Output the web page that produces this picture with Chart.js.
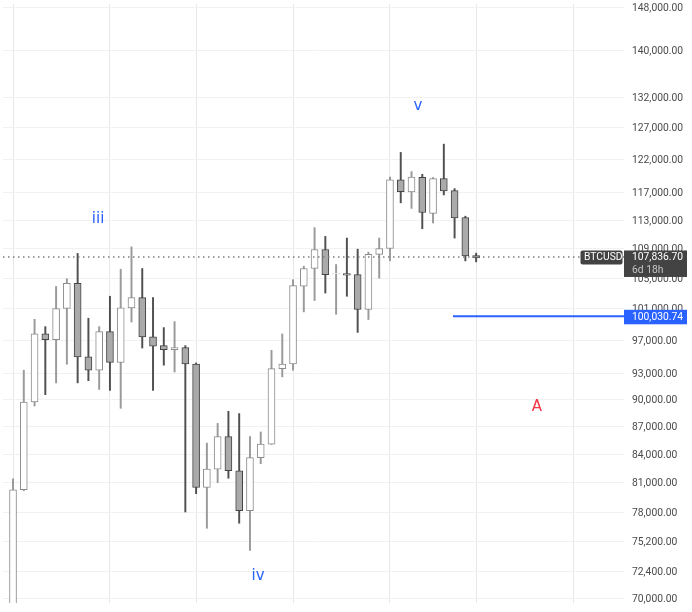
<!DOCTYPE html>
<html>
<head>
<meta charset="utf-8">
<style>html,body{margin:0;padding:0;background:#fff}canvas{display:block}</style>
<script src="https://cdn.jsdelivr.net/npm/chart.js@4"></script>
</head>
<body>
<canvas id="c" width="692" height="612"></canvas>
<script>
const opens = [69000,80300,89745,97820,97100,101025,104300,95010,93420,98100,94340,101100,102430,97460,96380,95900,96140,94170,80525,82430,85900,82260,78200,83640,85080,93620,94170,103920,106270,108860,105580,105580,105450,100900,108180,109000,118920,117090,119290,113950,119080,117300,113365,108040];
const highs = [81410,93420,99655,98730,103880,104900,108320,99780,98730,102600,106170,109220,106270,102430,98610,99360,96380,94290,85190,87340,88690,88430,85900,86400,95820,97820,104775,106580,111910,110680,106810,110450,108900,108490,110450,119330,123100,120160,119740,119250,124400,117590,113550,108360];
const lows = [68000,80200,89290,90580,91940,94140,91940,92200,91180,91070,89030,99310,96090,91070,94020,93210,78070,79900,76475,81020,81480,76970,74360,83000,85050,92650,93420,100590,102050,103020,100295,102600,98010,99620,104980,107300,115490,114675,111760,112580,116650,110450,107300,107170];
const closes = [80300,89745,97820,97100,101025,104300,95010,93420,98100,94340,101100,102430,97460,96330,95900,96140,94170,80525,82430,85900,82260,78200,83640,85080,93620,94170,104000,106270,108860,105450,105600,105390,100900,108180,109000,118920,117150,119330,114090,119080,117240,113300,107990,107715];
const yTicks = [70000,72400,75200,78000,81000,84000,87000,90000,93000,97000,101000,105000,109000,113000,117000,122000,127000,132000,140000,148000];
const monthTicks = [0,9,17,26,35,43,52];
const lastPrice = 107836.70;
const countdown = "6d 18h";
const symbol = "BTCUSD";
const levelPrice = 100030.74;
const levelStart = 40.85;
const waveLabels = ["iii","iv","v","A"];
const waveX = [7.9,22.75,37.6,48.65];
const waveY = [113190,71950,130550,89146];
const waveColors = ["#2962ff","#2962ff","#2962ff","#f23645"];
const xMin = -0.93, xMax = 56.73, yMin = 69570, yMax = 148564;

const isUp = opens.map((o,i)=>closes[i]>=o);
const fmt = v => Number(v).toLocaleString("en-US",{minimumFractionDigits:2,maximumFractionDigits:2});
const FONT = "Roboto, sans-serif";

const overlay = {
  id:"overlay",
  afterDraw(chart){
    const {ctx,scales:{x,y},chartArea:a} = chart;
    ctx.save();
    ctx.textBaseline="middle";
    waveLabels.forEach((t,i)=>{
      ctx.font="15px 'DejaVu Sans', sans-serif"; ctx.fillStyle=waveColors[i]; ctx.textAlign="center";
      ctx.fillText(t,x.getPixelForValue(waveX[i]),y.getPixelForValue(waveY[i]));
    });
    const py = y.getPixelForValue(lastPrice);
    ctx.textAlign="left";
    ctx.fillStyle="#434343";
    ctx.beginPath(); ctx.roundRect(a.right-43.5,py-6.5,42,14,2); ctx.fill();
    ctx.fillRect(a.right,py-6.5,63,26.5);
    ctx.fillStyle="#fff"; ctx.font="10.3px "+FONT;
    ctx.fillText(symbol,a.right-40,py+0.8);
    ctx.fillText(fmt(lastPrice),632,py+0.8);
    ctx.fillStyle="#c4c4c4";
    ctx.fillText(countdown,632,py+13.5);
    const ly = y.getPixelForValue(levelPrice);
    ctx.fillStyle="#2962ff";
    ctx.fillRect(a.right,ly-6.5,63,14.5);
    ctx.fillStyle="#fff";
    ctx.fillText(fmt(levelPrice),632,ly+0.8);
    ctx.restore();
  }
};

new Chart(document.getElementById("c"),{
  type:"bar",
  data:{datasets:[
    {type:"line",label:"last",order:0,data:[{x:xMin,y:lastPrice},{x:xMax,y:lastPrice}],borderColor:"#7d7d7d",borderWidth:1.5,borderDash:[1.5,3.5],pointRadius:0,tension:0},
    {type:"line",label:"level",order:0,data:[{x:levelStart,y:levelPrice},{x:xMax,y:levelPrice}],borderColor:"#2962ff",borderWidth:2,pointRadius:0,tension:0},
    {label:"body",order:1,grouped:false,barThickness:7,borderSkipped:false,borderWidth:1,
      data:opens.map((o,i)=>({x:i,y:[o,closes[i]]})),
      backgroundColor:isUp.map(u=>u?"#ffffff":"#aaaaaa"),
      borderColor:isUp.map(u=>u?"#8c8c8c":"#444444")},
    {label:"wick",order:2,grouped:false,barThickness:1.3,borderWidth:0,
      data:highs.map((h,i)=>({x:i,y:[lows[i],h]})),
      backgroundColor:isUp.map(u=>u?"#9a9a9a":"#505050")}
  ]},
  plugins:[overlay],
  options:{
    responsive:false,animation:false,devicePixelRatio:1,
    layout:{padding:{left:3,top:4,right:0,bottom:9}},
    plugins:{legend:{display:false},tooltip:{enabled:false},title:{display:false}},
    scales:{
      x:{type:"linear",min:xMin,max:xMax,offset:false,
        afterBuildTicks(s){s.ticks=monthTicks.map(v=>({value:v}));},
        ticks:{display:false},
        grid:{color:"#e8e8e8",lineWidth:1,drawTicks:false,offset:false},border:{display:false}},
      y:{type:"logarithmic",position:"right",min:yMin,max:yMax,
        afterBuildTicks(s){s.ticks=yTicks.map(v=>({value:v}));},
        afterFit(s){s.width=68;s.paddingTop=0;s.paddingBottom=0;},
        ticks:{autoSkip:false,padding:8,labelOffset:1,color:"#4a4a4a",font:{family:FONT,size:10.3},callback:v=>fmt(v),maxRotation:0},
        grid:{color:"#f1f1f1",lineWidth:1,drawTicks:false},border:{display:false}}
    }
  }
});
</script>
</body>
</html>
